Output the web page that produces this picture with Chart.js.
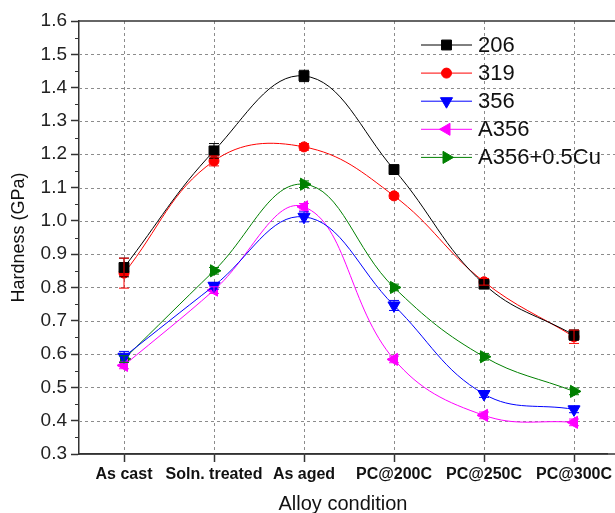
<!DOCTYPE html>
<html><head><meta charset="utf-8">
<script src="https://cdn.jsdelivr.net/npm/chart.js@4/dist/chart.umd.min.js"></script>
<style>html,body{margin:0;padding:0;background:#fff;overflow:hidden}#wrap{width:615px;height:513px;position:relative}</style>
</head><body><div id="wrap"><canvas id="c" width="615" height="513"></canvas></div>
<script>
const categories = ['As cast', 'Soln. treated', 'As aged', 'PC@200C', 'PC@250C', 'PC@300C'];
const seriesNames = ['206', '319', '356', 'A356', 'A356+0.5Cu'];
const hard206 = [0.86, 1.21, 1.435, 1.154, 0.81, 0.657];
const hard319 = [0.843, 1.18, 1.222, 1.075, 0.817, 0.652];
const hard356 = [0.592, 0.805, 1.012, 0.746, 0.48, 0.434];
const hardA356 = [0.566, 0.792, 1.042, 0.584, 0.416, 0.395];
const hardA356Cu = [0.585, 0.85, 1.11, 0.80, 0.592, 0.488];
const err206 = [0.028, 0.022, 0.017, 0.008, 0.01, 0.015];
const err319 = [0.045, 0.015, 0.01, 0.008, 0.01, 0.02];
const err356 = [0.016, 0.01, 0.015, 0.015, 0.01, 0.01];
const errA356 = [0.01, 0.01, 0.01, 0.01, 0.01, 0.01];
const errA356Cu = [0.01, 0.01, 0.01, 0.01, 0.01, 0.01];
const yTicks = [0.3, 0.4, 0.5, 0.6, 0.7, 0.8, 0.9, 1.0, 1.1, 1.2, 1.3, 1.4, 1.5, 1.6];

const FONT = "'Liberation Sans', Arial, sans-serif";
const values = [hard206, hard319, hard356, hardA356, hardA356Cu];
const errors = [err206, err319, err356, errA356, errA356Cu];
const colors = ['#000000', '#ff0000', '#0000ff', '#ff00ff', '#008000'];
const styles = [
  {pointStyle: 'rect', rot: 0, r: 7},
  {pointStyle: 'circle', rot: 0, r: 5},
  {pointStyle: 'triangle', rot: 180, r: 7},
  {pointStyle: 'triangle', rot: 270, r: 7},
  {pointStyle: 'triangle', rot: 90, r: 7}
];
const CAT_SPACING = 90; // px between categories in the reference

const datasets = seriesNames.map((name, i) => ({
  label: name,
  data: values[i].map((v, j) => ({x: j, y: v})),
  errs: errors[i],
  borderColor: colors[i],
  backgroundColor: colors[i],
  borderWidth: 1,
  tension: 0.4,
  pointStyle: styles[i].pointStyle,
  pointRotation: styles[i].rot,
  pointRadius: styles[i].r,
  pointBorderWidth: 1,
  pointBackgroundColor: colors[i],
  pointBorderColor: colors[i]
}));

const decor = {
  id: 'decor',
  afterLayout(chart) {
    const xs = chart.scales.x;
    xs.max = -0.5 + (xs.right - xs.left) / CAT_SPACING;
    xs.configure();
  },
  beforeDatasetsDraw(chart) {
    const {ctx, chartArea: a, scales: {x, y}} = chart;
    const R = chart.width;
    ctx.save();
    ctx.strokeStyle = '#8c8c8c';
    ctx.lineWidth = 1;
    ctx.setLineDash([3, 3]);
    yTicks.forEach(v => {
      if (v <= 0.3 || v >= 1.6) return;
      const py = Math.round(y.getPixelForValue(v)) + 0.5;
      ctx.beginPath(); ctx.moveTo(a.left, py); ctx.lineTo(R, py); ctx.stroke();
    });
    categories.forEach((c, i) => {
      const px = Math.round(x.getPixelForValue(i)) + 0.5;
      ctx.beginPath(); ctx.moveTo(px, a.top); ctx.lineTo(px, a.bottom); ctx.stroke();
    });
    ctx.setLineDash([]);
    ctx.strokeStyle = '#333';
    ctx.lineWidth = 1.5;
    ctx.beginPath(); ctx.moveTo(a.left, a.top); ctx.lineTo(R, a.top); ctx.stroke();
    ctx.beginPath(); ctx.moveTo(a.left, a.bottom); ctx.lineTo(R, a.bottom); ctx.stroke();
    ctx.lineWidth = 1;
    for (let k = 0; k < yTicks.length - 1; k++) {
      const v = (yTicks[k] + yTicks[k + 1]) / 2;
      const py = Math.round(y.getPixelForValue(v)) + 0.5;
      ctx.beginPath(); ctx.moveTo(a.left - 4, py); ctx.lineTo(a.left, py); ctx.stroke();
    }
    ctx.restore();
  },
  afterDatasetsDraw(chart) {
    const {ctx, scales: {x, y}} = chart;
    ctx.save();
    chart.data.datasets.forEach((ds, i) => {
      ctx.strokeStyle = ds.borderColor;
      ctx.lineWidth = 1;
      ds.data.forEach((p, j) => {
        const e = ds.errs[j];
        const px = x.getPixelForValue(p.x);
        const y1 = y.getPixelForValue(p.y + e), y2 = y.getPixelForValue(p.y - e);
        ctx.beginPath();
        ctx.moveTo(px, y1); ctx.lineTo(px, y2);
        ctx.moveTo(px - 5, y1); ctx.lineTo(px + 5, y1);
        ctx.moveTo(px - 5, y2); ctx.lineTo(px + 5, y2);
        ctx.stroke();
      });
    });
    ctx.restore();
  },
  afterDraw(chart) {
    const ctx = chart.ctx;
    ctx.save();
    chart.data.datasets.forEach((ds, i) => {
      const ly = 45 + i * 28.1;
      ctx.strokeStyle = ds.borderColor;
      ctx.fillStyle = ds.borderColor;
      ctx.lineWidth = 1;
      ctx.beginPath(); ctx.moveTo(421, ly); ctx.lineTo(472, ly); ctx.stroke();
      Chart.helpers.drawPoint(ctx, {pointStyle: ds.pointStyle, rotation: ds.pointRotation, radius: ds.pointRadius, borderWidth: 1}, 446.5, ly);
      ctx.fillStyle = '#111';
      ctx.font = '22px ' + FONT;
      ctx.textAlign = 'left';
      ctx.textBaseline = 'middle';
      ctx.fillText(ds.label, 478, ly + 1);
    });
    ctx.restore();
  }
};

new Chart(document.getElementById('c'), {
  type: 'line',
  data: {datasets},
  options: {
    responsive: false,
    animation: false,
    devicePixelRatio: 1,
    layout: {padding: {top: 21, right: 0, left: 0, bottom: 0}},
    plugins: {legend: {display: false}, tooltip: {enabled: false}},
    scales: {
      x: {
        type: 'linear',
        min: -0.5,
        max: 5.456,
        afterBuildTicks: s => { s.ticks = categories.map((c, i) => ({value: i})); },
        afterFit: s => { s.height = 59; s.paddingLeft = 0; s.paddingRight = 0; },
        grid: {drawOnChartArea: false, tickLength: 8, tickColor: '#333', tickWidth: 1.5},
        border: {color: '#333', width: 1.5},
        ticks: {
          autoSkip: false, maxRotation: 0, padding: 3, color: '#111',
          font: {family: FONT, size: 16, weight: 'bold'},
          callback: v => categories[v]
        },
        title: {display: true, text: 'Alloy condition', color: '#111', padding: {top: 0, bottom: 0},
          font: {family: FONT, size: 20, lineHeight: 0.9}}
      },
      y: {
        type: 'linear',
        min: 0.3,
        max: 1.6,
        afterBuildTicks: s => { s.ticks = yTicks.map(v => ({value: v})); },
        afterFit: s => { s.width = 79; s.paddingTop = 0; s.paddingBottom = 0; },
        grid: {drawOnChartArea: false, tickLength: 8, tickColor: '#333', tickWidth: 1.5},
        border: {color: '#333', width: 1.5},
        ticks: {
          padding: 4, color: '#222',
          font: {family: FONT, size: 19},
          callback: v => v.toFixed(1)
        },
        title: {display: true, text: 'Hardness (GPa)', color: '#111', padding: {top: 8, bottom: 0},
          font: {family: FONT, size: 18, lineHeight: 1.2}}
      }
    }
  },
  plugins: [decor]
});
</script></body></html>
